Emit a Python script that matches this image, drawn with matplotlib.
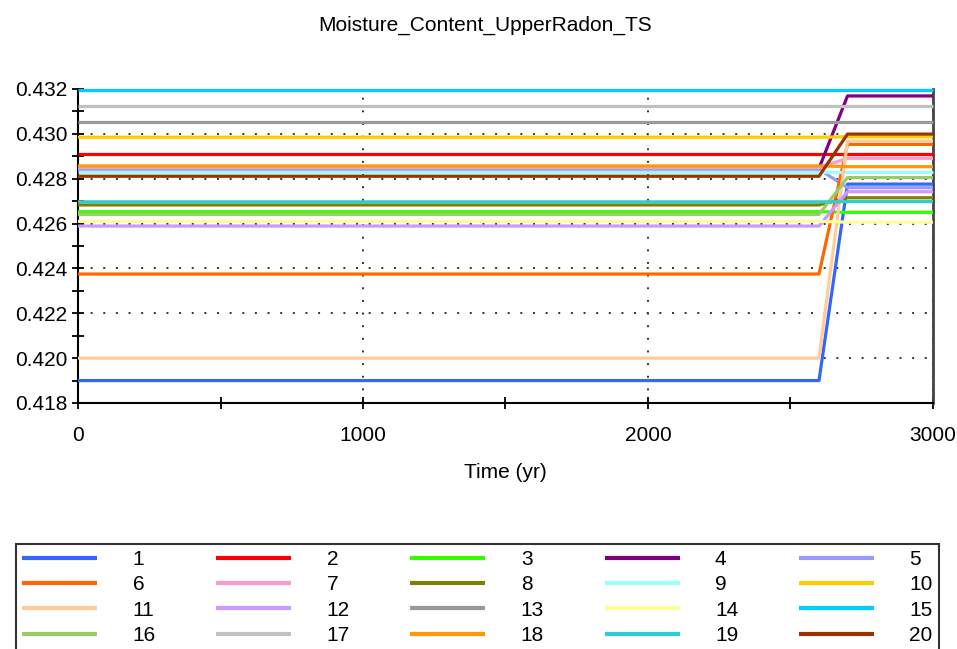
import matplotlib
matplotlib.use("Agg")
import matplotlib.pyplot as plt
from matplotlib.ticker import MultipleLocator, FormatStrFormatter

plt.rcParams['font.family'] = ['Liberation Sans', 'DejaVu Sans']

title = "Moisture_Content_UpperRadon_TS"
xlabel = "Time (yr)"
times = [0, 2600, 2700, 3000]
series_names = [str(i) for i in range(1, 21)]
initial_values = [0.41900, 0.42909, 0.42653, 0.42846, 0.42842,
                  0.42375, 0.42850, 0.42683, 0.42831, 0.42985,
                  0.42000, 0.42589, 0.43054, 0.42610, 0.43195,
                  0.42641, 0.43126, 0.42857, 0.42697, 0.42811]
final_values = [0.42776, 0.42909, 0.42650, 0.43169, 0.42760,
                0.42953, 0.42891, 0.42715, 0.42831, 0.42987,
                0.42968, 0.42742, 0.43054, 0.42606, 0.43195,
                0.42805, 0.43126, 0.42854, 0.42698, 0.42999]
colors = ['#3366FF', '#FF0000', '#33FF00', '#800080', '#9999FF',
          '#FF6600', '#FF99CC', '#808000', '#99FFFF', '#FFCC00',
          '#FFCC99', '#CC99FF', '#999999', '#FFFF99', '#00CCFF',
          '#99CC66', '#C0C0C0', '#FF9900', '#33CCCC', '#993300']

fig = plt.figure(figsize=(9.57, 6.49), dpi=100)
ax = fig.add_axes([78/957, 1-403/649, 855/957, 314/649])

handles = []
for name, v0, v1, c in zip(series_names, initial_values, final_values, colors):
    ys = [v0, v0, v1, v1]
    h, = ax.plot(times, ys, color=c, lw=2.3, label=name, zorder=3, clip_on=False,
                 solid_capstyle='butt')
    handles.append(h)

ax.set_xlim(0, 3000)
ax.set_ylim(0.418, 0.432)
ax.xaxis.set_major_locator(MultipleLocator(1000))
ax.xaxis.set_minor_locator(MultipleLocator(500))
ax.yaxis.set_major_locator(MultipleLocator(0.002))
ax.yaxis.set_minor_locator(MultipleLocator(0.001))
ax.yaxis.set_major_formatter(FormatStrFormatter('%.3f'))
ax.tick_params(which='both', direction='inout', length=9, width=1.3, labelsize=15,
               colors='black')
ax.tick_params(axis='y', which='both', pad=3)
ax.tick_params(axis='x', which='both', pad=12)
ax.grid(True, which='major', color='#333333', linestyle=(0, (1, 5.5)), linewidth=1.4)
ax.spines['top'].set_visible(False)
for s in ['left', 'bottom']:
    ax.spines[s].set_linewidth(1.5)
ax.spines['right'].set_linewidth(2)
ax.spines['right'].set_color('#444444')

fig.text(485/957, 1-25/649, title, ha='center', va='center', fontsize=15)
fig.text(505/957, 1-473/649, xlabel, ha='center', va='center', fontsize=15)

order = [handles[c + 5*r] for c in range(5) for r in range(4)]
leg = fig.legend(order, [h.get_label() for h in order], ncol=5,
                 loc='upper left', bbox_to_anchor=(16/957, 1-544/649),
                 fontsize=15, frameon=True, fancybox=False, edgecolor='black',
                 handlelength=3.6, handletextpad=1.7, columnspacing=2.9,
                 labelspacing=0.3, borderpad=0.3, borderaxespad=0)
leg.get_frame().set_linewidth(1.5)
for l in leg.get_lines():
    l.set_linewidth(3)

fig.savefig('out.png', dpi=100)
